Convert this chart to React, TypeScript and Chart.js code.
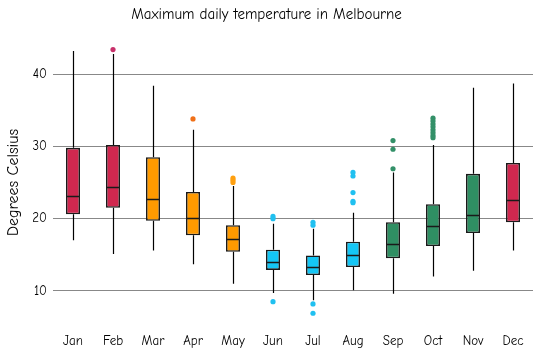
import React, { useEffect, useRef } from "react";
import { Chart, registerables } from "chart.js";

Chart.register(...registerables);

const months = ["Jan", "Feb", "Mar", "Apr", "May", "Jun", "Jul", "Aug", "Sep", "Oct", "Nov", "Dec"];
const whiskerLow = [17.0, 15.1, 15.6, 13.7, 11.0, 9.7, 8.7, 10.1, 9.6, 12.0, 12.8, 15.6];
const q1 = [20.6, 21.5, 19.7, 17.7, 15.4, 12.9, 12.2, 13.3, 14.5, 16.2, 18.0, 19.5];
const median = [23.2, 24.4, 22.7, 20.1, 17.2, 14.0, 13.3, 15.0, 16.5, 19.0, 20.5, 22.6];
const q3 = [29.8, 30.2, 28.5, 23.7, 19.1, 15.7, 14.9, 16.8, 19.5, 22.0, 26.2, 27.7];
const whiskerHigh = [43.2, 42.8, 38.4, 32.3, 24.5, 19.3, 18.6, 20.8, 26.4, 30.2, 38.1, 38.7];
const outliers: number[][] = [
  [],
  [43.4],
  [],
  [33.8],
  [25.6, 25.3, 25.0],
  [20.3, 20.0, 8.5],
  [19.5, 19.1, 8.2, 6.9],
  [26.4, 25.9, 23.6, 22.4, 22.2],
  [30.8, 29.6, 26.9],
  [33.9, 33.5, 33.1, 32.7, 32.3, 31.9, 31.5, 31.2],
  [],
  [],
];
const boxColors = ["#d0284f", "#d0284f", "#ff9a00", "#ff9a00", "#ff9a00", "#14c6f5", "#14c6f5", "#14c6f5", "#2f8f63", "#2f8f63", "#2f8f63", "#d0284f"];
const outlierColors = ["#c8306a", "#c8306a", "#f07018", "#f07018", "#ffa010", "#20c0f0", "#20c0f0", "#20c0f0", "#339068", "#339068", "#339068", "#c8306a"];
const yTicks = [10, 20, 30, 40];

const FONT = '"Comic Sans MS", "Comic Neue", "DejaVu Sans", sans-serif';

export default function App() {
  const ref = useRef<HTMLCanvasElement | null>(null);
  useEffect(() => {
    document.body.style.margin = "0";
    const ctx = ref.current!.getContext("2d")!;
    const outlierPoints: { x: string; y: number }[] = [];
    const outlierPointColors: string[] = [];
    outliers.forEach((arr, i) => {
      arr.forEach((v) => {
        outlierPoints.push({ x: months[i], y: v });
        outlierPointColors.push(outlierColors[i]);
      });
    });

    const boxPlugin = {
      id: "boxExtras",
      beforeDatasetsDraw(chart: any) {
        const c = chart.ctx;
        const ys = chart.scales.y;
        const meta = chart.getDatasetMeta(0);
        c.save();
        c.strokeStyle = "#000";
        c.lineWidth = 1.2;
        meta.data.forEach((bar: any, i: number) => {
          const x = Math.round(bar.x) + 0.5;
          c.beginPath();
          c.moveTo(x, ys.getPixelForValue(whiskerHigh[i]));
          c.lineTo(x, ys.getPixelForValue(q3[i]));
          c.moveTo(x, ys.getPixelForValue(q1[i]));
          c.lineTo(x, ys.getPixelForValue(whiskerLow[i]));
          c.stroke();
        });
        c.restore();
      },
      afterDatasetDraw(chart: any, args: any) {
        if (args.index !== 0) return;
        const c = chart.ctx;
        const ys = chart.scales.y;
        const meta = chart.getDatasetMeta(0);
        c.save();
        c.strokeStyle = "#1a1a1a";
        c.lineWidth = 1.5;
        meta.data.forEach((bar: any, i: number) => {
          const half = bar.width / 2;
          const y = Math.round(ys.getPixelForValue(median[i])) + 0.5;
          c.beginPath();
          c.moveTo(bar.x - half, y);
          c.lineTo(bar.x + half, y);
          c.stroke();
        });
        c.restore();
      },
    };

    const chart = new Chart(ctx, {
      type: "bar",
      data: {
        labels: months,
        datasets: [
          {
            type: "bar",
            data: months.map((_, i) => [q1[i], q3[i]]),
            backgroundColor: boxColors,
            borderColor: "#1a1a1a",
            borderWidth: 1.6,
            borderSkipped: false,
            barPercentage: 0.35,
            categoryPercentage: 1,
            order: 2,
          } as any,
          {
            type: "line",
            data: outlierPoints as any,
            showLine: false,
            pointRadius: 2.6,
            pointBorderWidth: 0,
            pointBackgroundColor: outlierPointColors,
            pointBorderColor: outlierPointColors,
            order: 1,
          } as any,
        ],
      },
      options: {
        animation: false,
        responsive: false,
        layout: { padding: { left: 0, right: 9, top: 0, bottom: 0 } },
        plugins: {
          legend: { display: false },
          tooltip: { enabled: false },
          title: {
            display: true,
            text: "Maximum daily temperature in Melbourne",
            color: "#000",
            font: { family: FONT, size: 15, weight: "normal" },
            padding: { top: 6, bottom: 14 },
          },
        },
        scales: {
          x: {
            grid: { display: false, drawTicks: false },
            border: { display: false },
            ticks: { color: "#000", font: { family: FONT, size: 13 }, padding: 7 },
            afterFit(scale: any) {
              scale.height = 31;
            },
          },
          y: {
            min: 5,
            max: 45,
            grid: { color: "#888", lineWidth: 1, drawTicks: false },
            border: { display: false },
            ticks: { color: "#000", font: { family: FONT, size: 13 }, padding: 6 },
            afterBuildTicks(scale: any) {
              scale.ticks = yTicks.map((v) => ({ value: v }));
            },
            afterFit(scale: any) {
              scale.width = 53;
            },
            title: {
              display: true,
              text: "Degrees Celsius",
              color: "#000",
              font: { family: FONT, size: 16 },
              padding: { top: 4, bottom: 0 },
            },
          },
        },
      },
      plugins: [boxPlugin],
    });
    return () => chart.destroy();
  }, []);
  return (
    <div style={{ position: "absolute", left: 0, top: 0, width: 542, height: 358 }}>
      <canvas ref={ref} width={542} height={358} style={{ display: "block" }} />
    </div>
  );
}
